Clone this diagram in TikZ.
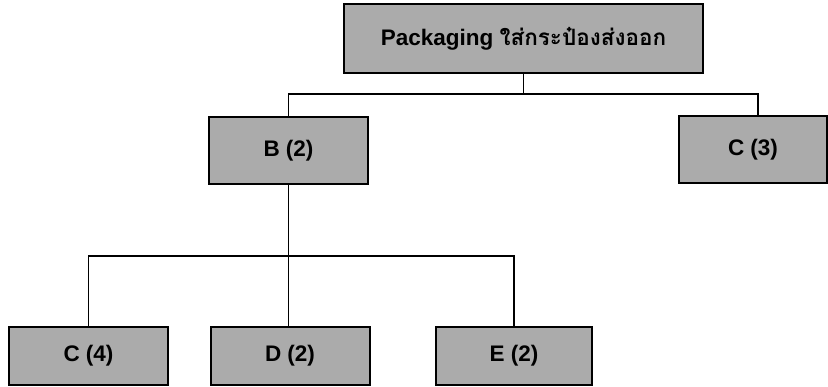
\documentclass[tikz,border=0pt]{standalone}
\usepackage{fontspec}
\setmainfont{Liberation Sans}
\newfontfamily\thaifont[Script=Thai]{Loma}
\begin{document}
\begin{tikzpicture}[x=1pt,y=-1pt,
  box/.style={draw=black,line width=2pt,fill=black!33,inner sep=0pt,font=\fontsize{22.5}{26}\selectfont\bfseries},
  link/.style={draw=black,line width=1.5pt}]
\useasboundingbox (0,0) rectangle (828,386);
\node[box,minimum width=359pt,minimum height=69pt] (top) at (523.5,38.5) {Packaging {\thaifont ใส่กระป๋องส่งออก}};
\node[box,minimum width=159pt,minimum height=67pt] (B) at (288.5,150.5) {B (2)};
\node[box,minimum width=148pt,minimum height=67pt] (C3) at (753,149.5) {C (3)};
\node[box,minimum width=159pt,minimum height=58pt] (C4) at (88.5,356) {C (4)};
\node[box,minimum width=159pt,minimum height=58pt] (D) at (290,356) {D (2)};
\node[box,minimum width=156pt,minimum height=58pt] (E) at (514,356) {E (2)};
\coordinate (j1) at (523.5,94);
\coordinate (j2) at (288.5,256);
\draw[link] (top.south) -- (j1);
\draw[link] (B.north) |- (j1) -| ([xshift=5pt]C3.north);
\draw[link] (B.south) -- (B.south |- D.north);
\draw[link] (C4.north) |- (j2) -| (E.north);
\end{tikzpicture}
\end{document}
